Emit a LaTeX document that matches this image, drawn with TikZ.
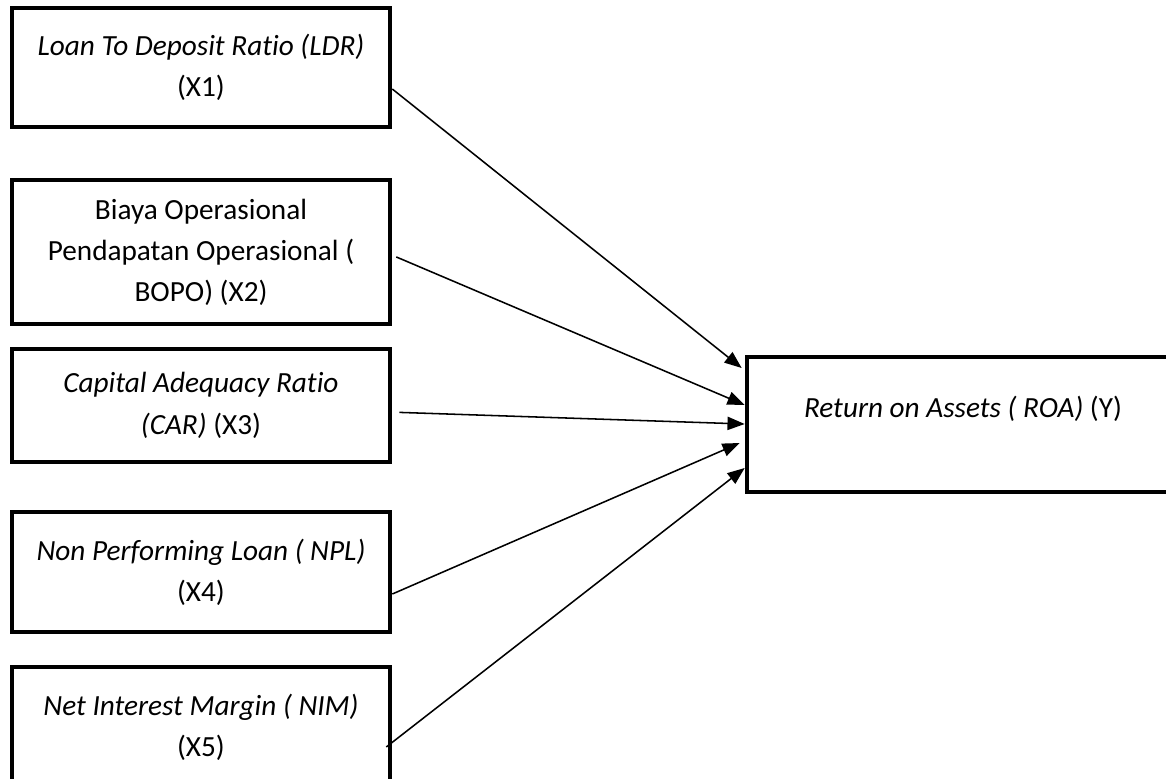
\documentclass[tikz,border=0pt]{standalone}
\usepackage{fontspec}
\setmainfont[Ligatures=NoCommon]{Carlito}
\usetikzlibrary{arrows.meta,positioning,calc}
\tikzset{
  base/.style={align=center, font=\fontsize{20.8}{29.2}\selectfont, text=black},
  var/.style={base, rectangle, draw=black, line width=3.2pt, minimum width=9.45cm, minimum height=3cm, inner sep=2pt},
  line/.style={-{Triangle[length=0.43cm,width=0.33cm]}, line width=1.1pt, draw=black}
}

\begin{document}
\begin{tikzpicture}[x=0.025cm, y=-0.025cm, node distance=1.2cm]
  \useasboundingbox (0,0) rectangle (1166,778);

  % Left column: independent variables
  \node[var, minimum height=2.975cm] (x1) at (201,67.5) {\textit{Loan To Deposit Ratio (LDR)}\\(X1)};
  \node[var, below=1.21cm of x1, minimum height=3.6cm] (x2) {Biaya Operasional\\Pendapatan Operasional (\\BOPO) (X2)};
  \node[var, below=0.51cm of x2, minimum height=2.825cm] (x3) {\textit{Capital Adequacy Ratio}\\\textit{(CAR)} (X3)};
  \node[var, below=1.14cm of x3] (x4) {\textit{Non Performing Loan ( NPL)}\\(X4)};
  \node[var, below=0.76cm of x4] (x5) {\textit{Net Interest Margin ( NIM)}\\(X5)};

  % Right: dependent variable
  \node[var, minimum width=10.8cm, minimum height=3.375cm, text depth=0.88cm] (roa) at (963,424.5) {\textit{Return on Assets ( ROA)} (Y)};

  % Edges
  \draw[line] ($(x1.east)+(0,21.5)$) -- ($(roa.west)+(-3,-56.5)$);
  \draw[line] ($(x2.east)+(4,5)$) -- ($(roa.west)+(0,-19.5)$);
  \draw[line] ($(x3.east)+(7,7)$) -- ($(roa.west)+(0,-0.5)$);
  \draw[line] ($(x4.east)+(0,22)$) -- ($(roa.west)+(-5,18.5)$);
  \draw[line] ($(x5.east)+(-6,20)$) -- ($(roa.west)+(0,43.5)$);

\end{tikzpicture}
\end{document}
